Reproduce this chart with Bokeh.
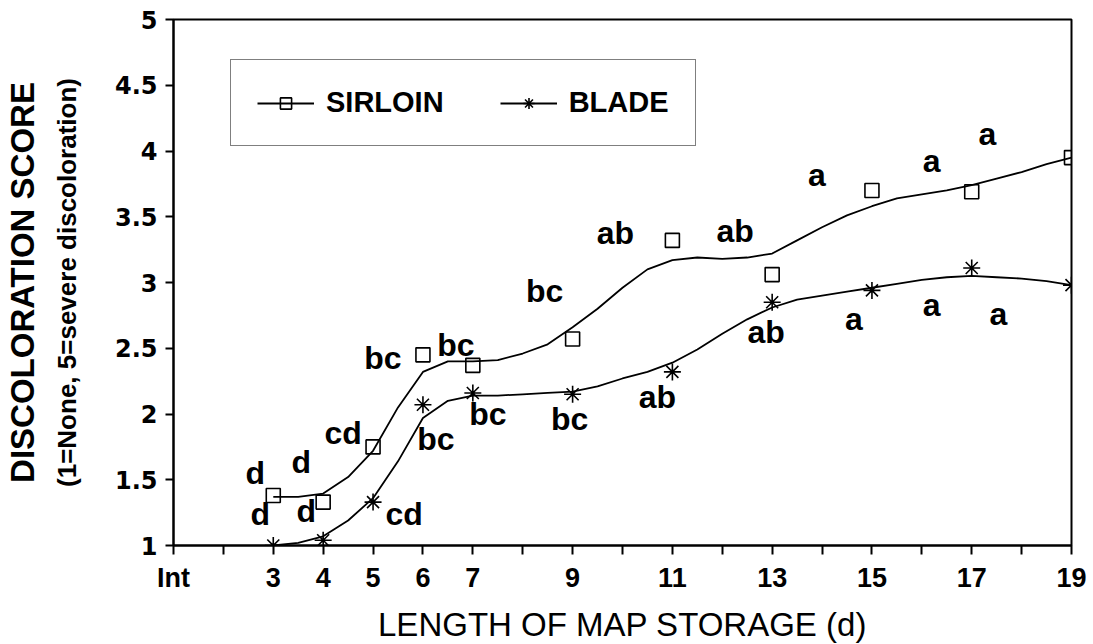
from bokeh.plotting import figure
from bokeh.models import (FixedTicker, Legend, LegendItem, LabelSet,
                          ColumnDataSource, Range1d, LinearAxis)
from bokeh.embed import file_html
from bokeh.resources import INLINE
from bokeh.core.properties import value

# ---------------- data ----------------
days = [3, 4, 5, 6, 7, 9, 11, 13, 15, 17, 19]
sirloin = [1.38, 1.33, 1.75, 2.45, 2.37, 2.57, 3.32, 3.06, 3.70, 3.69, 3.95]
blade = [1.00, 1.04, 1.33, 2.07, 2.16, 2.15, 2.32, 2.85, 2.94, 3.11, 2.98]
sirloin_letters = ["d", "d", "cd", "bc", "bc", "bc", "ab", "ab", "a", "a", "a"]
blade_letters = ["d", "d", "cd", "bc", "bc", "bc", "ab", "ab", "a", "a", "a"]

# fitted (smoothed) curves, every half day
curve_days = [3, 3.5, 4, 4.5, 5, 5.5, 6, 6.5, 7, 7.5, 8, 8.5, 9, 9.5, 10, 10.5,
              11, 11.5, 12, 12.5, 13, 13.5, 14, 14.5, 15, 15.5, 16, 16.5, 17,
              17.5, 18, 18.5, 19]
sirloin_curve = [1.37, 1.37, 1.395, 1.52, 1.72, 2.05, 2.32, 2.40, 2.40, 2.41,
                 2.46, 2.53, 2.66, 2.80, 2.96, 3.10, 3.17, 3.19, 3.18, 3.19,
                 3.22, 3.32, 3.42, 3.51, 3.58, 3.64, 3.67, 3.70, 3.74, 3.79,
                 3.84, 3.90, 3.95]
blade_curve = [1.00, 1.02, 1.07, 1.19, 1.36, 1.64, 1.97, 2.10, 2.14, 2.14,
               2.15, 2.16, 2.17, 2.21, 2.27, 2.32, 2.39, 2.49, 2.61, 2.72,
               2.81, 2.87, 2.90, 2.93, 2.96, 2.99, 3.02, 3.04, 3.05, 3.04,
               3.03, 3.01, 2.98]

x_tick_values = [1, 3, 4, 5, 6, 7, 9, 11, 13, 15, 17, 19]
x_tick_labels = ["Int", "3", "4", "5", "6", "7", "9", "11", "13", "15", "17", "19"]
x_minor_ticks = [2, 8, 10, 12, 14, 16, 18]
y_tick_values = [1, 1.5, 2, 2.5, 3, 3.5, 4, 4.5, 5]
y_tick_labels = ["1", "1.5", "2", "2.5", "3", "3.5", "4", "4.5", "5"]

series_names = ["SIRLOIN", "BLADE"]
x_title = "LENGTH OF MAP STORAGE (d)"
y_title = "DISCOLORATION SCORE"
y_subtitle = "(1=None, 5=severe discoloration)"

# ---------------- layout / style (pixels) ----------------
sirloin_dx = [-18, -22, -30, -40, -17, -28, -57, -37, -55, -40, -84]
sirloin_dy = [23, 40, 14, -3, 20, 48, 7, 44, 15, 31, 24]
blade_dx = [-13, -17, 31, 13, 15, -3, -15, -6, -18, -40, -73]
blade_dy = [32, 29, -12, -34, -21, -25, -25, -30, -29, -37, -29]

FONT = "Liberation Sans"

p = figure(width=1087, height=642, frame_width=898, frame_height=526,
           min_border_left=173, min_border_right=16, min_border_top=19,
           min_border_bottom=97, output_backend="svg", toolbar_location=None,
           x_range=Range1d(1, 19), y_range=Range1d(1, 5))
p.grid.visible = False
p.background_fill_color = "white"
p.border_fill_color = "white"
p.outline_line_color = "black"
p.outline_line_width = 2

# x axis
xa = p.xaxis[0]
xa.ticker = FixedTicker(ticks=x_tick_values, minor_ticks=x_minor_ticks)
xa.major_label_overrides = dict(zip(x_tick_values, x_tick_labels))
xa.axis_line_width = 2
xa.major_tick_in = 0
xa.major_tick_out = 9
xa.minor_tick_in = 0
xa.minor_tick_out = 9
xa.major_tick_line_width = 2
xa.minor_tick_line_width = 2
xa.major_label_text_font = FONT
xa.major_label_text_font_style = "bold"
xa.major_label_text_font_size = "27px"
xa.major_label_text_color = "black"
xa.major_label_standoff = 8
xa.axis_label = x_title
xa.axis_label_text_font = FONT
xa.axis_label_text_font_style = "normal"
xa.axis_label_text_font_size = "33px"
xa.axis_label_text_color = "black"
xa.axis_label_standoff = 10

# y axis (tick labels + subtitle)
ya = p.yaxis[0]
ya.ticker = FixedTicker(ticks=y_tick_values, minor_ticks=[])
ya.major_label_overrides = dict(zip(y_tick_values, y_tick_labels))
ya.axis_line_width = 2
ya.major_tick_in = 0
ya.major_tick_out = 8
ya.minor_tick_line_color = None
ya.major_tick_line_width = 2
ya.major_label_text_font = "DejaVu Sans"
ya.major_label_text_font_style = "bold"
ya.major_label_text_font_size = "24px"
ya.major_label_text_color = "black"
ya.major_label_standoff = 8
ya.axis_label = y_subtitle
ya.axis_label_text_font = FONT
ya.axis_label_text_font_style = "bold"
ya.axis_label_text_font_size = "26px"
ya.axis_label_text_color = "black"
ya.axis_label_standoff = 30

# outer y title on an extra, tick-less axis
ya2 = LinearAxis(ticker=FixedTicker(ticks=[], minor_ticks=[]),
                 axis_line_color=None, major_tick_line_color=None,
                 minor_tick_line_color=None, major_label_text_font_size="0px",
                 major_label_standoff=0, major_tick_out=0, minor_tick_out=0,
                 axis_label=y_title, axis_label_text_font=FONT,
                 axis_label_text_font_style="bold",
                 axis_label_text_font_size="33px",
                 axis_label_text_color="black", axis_label_standoff=8)
p.add_layout(ya2, "left")

# curves and points
l1 = p.line(curve_days, sirloin_curve, line_color="black", line_width=1.8)
l2 = p.line(curve_days, blade_curve, line_color="black", line_width=1.8)
s1 = p.scatter(days, sirloin, marker="square", size=14, fill_color=None,
               line_color="black", line_width=1.6)
s2 = p.scatter(days, blade, marker="asterisk", size=17,
               line_color="black", line_width=1.6)

# significance letters
src1 = ColumnDataSource(dict(x=days, y=sirloin, t=sirloin_letters,
                             dx=sirloin_dx, dy=sirloin_dy))
src2 = ColumnDataSource(dict(x=days, y=blade, t=blade_letters,
                             dx=blade_dx, dy=blade_dy))
for src in (src1, src2):
    p.add_layout(LabelSet(x="x", y="y", text="t", x_offset="dx", y_offset="dy",
                          source=src, text_font=value(FONT),
                          text_font_style="bold",
                          text_font_size="32px", text_color="black",
                          text_align="center", text_baseline="middle"))

# legend
legend = Legend(items=[LegendItem(label=series_names[0], renderers=[l1, s1]),
                       LegendItem(label=series_names[1], renderers=[l2, s2])],
                location=(57, 399), orientation="horizontal",
                border_line_color="black", border_line_width=1.5,
                background_fill_color="white", background_fill_alpha=1,
                label_text_font=FONT, label_text_font_style="bold",
                label_text_font_size="29px", label_text_color="black",
                glyph_width=57, glyph_height=28, label_height=28,
                label_standoff=12, spacing=56, padding=26, margin=0)
p.add_layout(legend, "center")

open("out.html", "w").write(file_html(p, INLINE))
